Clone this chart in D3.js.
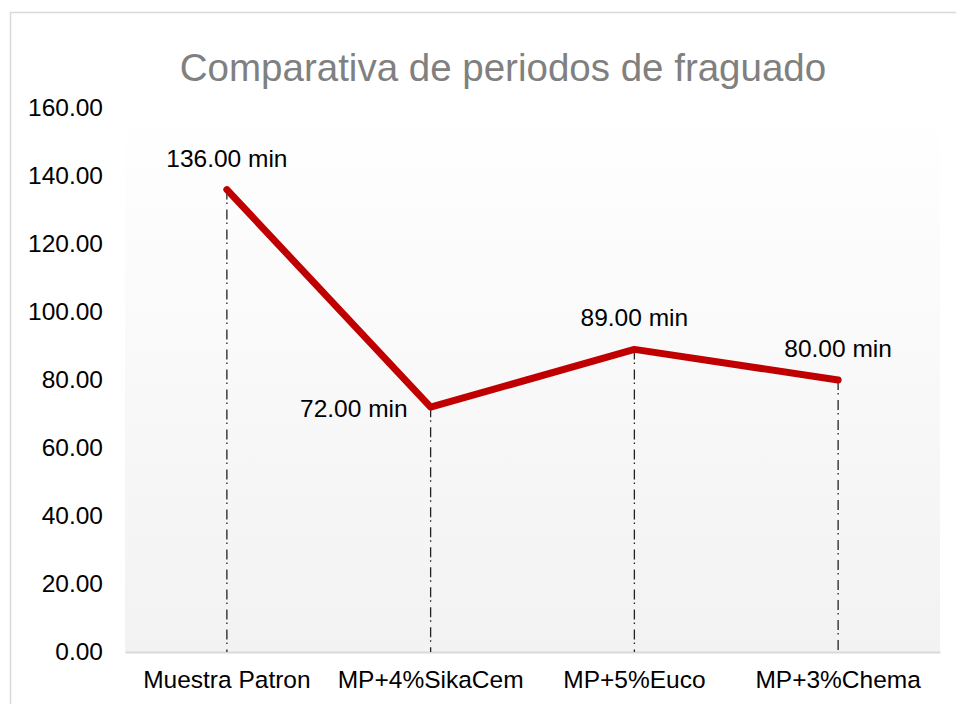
<!DOCTYPE html>
<html>
<head>
<meta charset="utf-8">
<script src="https://cdn.jsdelivr.net/npm/d3@7"></script>
<style>
  body { margin: 0; background: #fff; }
  text { font-family: "Liberation Sans", Arial, sans-serif; }
</style>
</head>
<body>
<script>
const w = 956;
const h = 704;

// data
const categories = ["Muestra Patron", "MP+4%SikaCem", "MP+5%Euco", "MP+3%Chema"];
const tiempos = [136, 72, 89, 80];
const yTicks = [0, 20, 40, 60, 80, 100, 120, 140, 160];

const plotLeft = 125, plotRight = 940, plotTop = 108, plotBottom = 652;

const svg = d3.select("body")
    .append("svg")
    .attr("width", w)
    .attr("height", h);

// plot area gradient
const grad = svg.append("defs")
    .append("linearGradient")
    .attr("id", "bg")
    .attr("x1", 0).attr("y1", 0)
    .attr("x2", 0).attr("y2", 1);
grad.append("stop").attr("offset", "0%").attr("stop-color", "#ffffff");
grad.append("stop").attr("offset", "100%").attr("stop-color", "#f2f2f2");

// chart border
svg.append("rect")
    .attr("x", 10.5)
    .attr("y", 12.5)
    .attr("width", 980)
    .attr("height", 740)
    .attr("fill", "none")
    .attr("stroke", "#d9d9d9")
    .attr("stroke-width", 1.5);

const xScale = d3.scaleBand()
    .domain(categories)
    .range([plotLeft, plotRight]);

const yScale = d3.scaleLinear()
    .domain([0, 160])
    .range([plotBottom, plotTop]);

svg.append("rect")
    .attr("x", plotLeft)
    .attr("y", plotTop)
    .attr("width", plotRight - plotLeft)
    .attr("height", plotBottom - plotTop)
    .attr("fill", "url(#bg)");

// title
svg.append("text")
    .attr("x", 503)
    .attr("y", 81)
    .attr("text-anchor", "middle")
    .attr("font-size", 38.5)
    .attr("fill", "#808080")
    .text("Comparativa de periodos de fraguado");

// y axis (labels only)
const yAxis = d3.axisLeft(yScale)
    .tickValues(yTicks)
    .tickFormat(d3.format(".2f"))
    .tickSize(0)
    .tickPadding(22);

svg.append("g")
    .attr("class", "yaxis")
    .attr("transform", "translate(" + plotLeft + ",0)")
    .call(yAxis)
    .call(g => g.select(".domain").remove())
    .call(g => g.selectAll("text")
        .attr("font-size", 24.5)
        .attr("font-family", "Liberation Sans, Arial, sans-serif")
        .attr("fill", "#000"));

// x axis
const xAxis = d3.axisBottom(xScale)
    .tickSize(0)
    .tickPadding(19);

svg.append("g")
    .attr("class", "xaxis")
    .attr("transform", "translate(0," + plotBottom + ")")
    .call(xAxis)
    .call(g => g.select(".domain")
        .attr("stroke", "#d9d9d9")
        .attr("stroke-width", 2))
    .call(g => g.selectAll("text")
        .attr("font-size", 24.5)
        .attr("font-family", "Liberation Sans, Arial, sans-serif")
        .attr("fill", "#000"));

const cx = function(d, i) { return xScale(categories[i]) + xScale.bandwidth() / 2; };

// drop lines
svg.selectAll(".drop")
    .data(tiempos)
    .enter()
    .append("line")
    .attr("class", "drop")
    .attr("x1", cx)
    .attr("x2", cx)
    .attr("y1", function(d) { return yScale(d); })
    .attr("y2", plotBottom)
    .attr("stroke", "#222")
    .attr("stroke-width", 1.3)
    .attr("stroke-dasharray", "10,3,1.5,5.5");

// line
const line = d3.line()
    .x(function(d, i) { return cx(d, i); })
    .y(function(d) { return yScale(d); });

svg.append("path")
    .datum(tiempos)
    .attr("d", line)
    .attr("fill", "none")
    .attr("stroke", "#c00000")
    .attr("stroke-width", 7)
    .attr("stroke-linecap", "round")
    .attr("stroke-linejoin", "round");

// data labels
svg.selectAll(".lbl")
    .data(tiempos)
    .enter()
    .append("text")
    .attr("class", "lbl")
    .attr("x", function(d, i) { return i == 1 ? cx(d, i) - 23 : cx(d, i); })
    .attr("y", function(d, i) { return i == 1 ? yScale(d) + 10 : yScale(d) - 23; })
    .attr("text-anchor", function(d, i) { return i == 1 ? "end" : "middle"; })
    .attr("font-size", 24.5)
    .attr("fill", "#000")
    .text(function(d) { return d3.format(".2f")(d) + " min"; });
</script>
</body>
</html>
